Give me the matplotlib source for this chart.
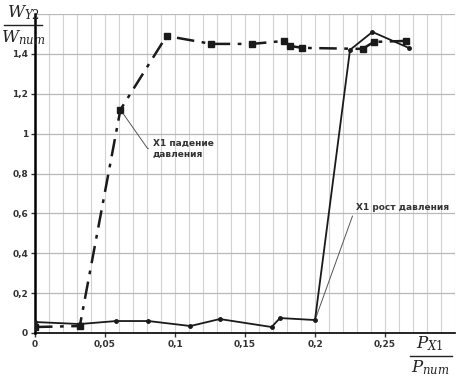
import matplotlib
matplotlib.use("Agg")
import matplotlib.pyplot as plt
import numpy as np

plt.rcParams["mathtext.fontset"] = "dejavuserif"

# Data
rise_x = [0.0, 0.032, 0.058, 0.081, 0.111, 0.132, 0.169, 0.175, 0.200, 0.225, 0.241, 0.267]
rise_y = [0.055, 0.045, 0.06, 0.06, 0.035, 0.07, 0.03, 0.075, 0.065, 1.42, 1.51, 1.43]

fall_x = [0.0, 0.032, 0.061, 0.094, 0.126, 0.155, 0.178, 0.182, 0.191, 0.234, 0.242, 0.265]
fall_y = [0.03, 0.035, 1.12, 1.49, 1.45, 1.45, 1.465, 1.44, 1.43, 1.425, 1.46, 1.465]

xticks = [0, 0.05, 0.1, 0.15, 0.2, 0.25]
xtick_labels = ["0", "0,05", "0,1", "0,15", "0,2", "0,25"]
yticks = [0, 0.2, 0.4, 0.6, 0.8, 1.0, 1.2, 1.4]
ytick_labels = ["0", "0,2", "0,4", "0,6", "0,8", "1", "1,2", "1,4"]

W, H = 463, 379
fig = plt.figure(figsize=(W / 100, H / 100), dpi=100)
ax = fig.add_axes([35 / W, 1 - 333 / H, 420 / W, (333 - 14) / H])
ax.set_xlim(0, 0.3)
ax.set_ylim(0, 1.6)

# grid
for xv in np.arange(0.01, 0.301, 0.01):
    ax.axvline(xv, color="#d2d2d2", lw=0.8, zorder=0)
for yv in np.arange(0.2, 1.61, 0.2):
    ax.axhline(yv, color="#b8b8b8", lw=0.9, zorder=0)

ax.plot(fall_x, fall_y, color="#1a1a1a", lw=1.8, ls=(0, (7, 3, 1.5, 3)),
        marker="s", ms=4.5, zorder=3)
ax.plot(rise_x, rise_y, color="#1a1a1a", lw=1.3, marker="o", ms=2.5, zorder=4)

for s in ["top", "right"]:
    ax.spines[s].set_visible(False)
ax.spines["left"].set_linewidth(1.8)
ax.spines["bottom"].set_linewidth(1.2)

ax.set_xticks(xticks)
ax.set_xticklabels(xtick_labels)
ax.set_yticks(yticks)
ax.set_yticklabels(ytick_labels)
ax.tick_params(axis="both", labelsize=6.5, length=3, width=1, colors="#333333",
               direction="out", pad=2)
for lab in ax.get_xticklabels() + ax.get_yticklabels():
    lab.set_fontweight("bold")

# annotations
ax.annotate("X1 падение\nдавления", xy=(0.063, 1.10), xytext=(0.084, 0.925),
            fontsize=6.5, fontweight="bold", color="#333333", ha="left", va="center",
            linespacing=1.3,
            arrowprops=dict(arrowstyle="-", color="#555555", lw=0.7,
                            connectionstyle="angle,angleA=0,angleB=-55,rad=0",
                            relpos=(0, 0.5), shrinkA=1, shrinkB=0))
ax.annotate("X1 рост давления", xy=(0.2, 0.065), xytext=(0.229, 0.63),
            fontsize=6.5, fontweight="bold", color="#333333", ha="left", va="center",
            arrowprops=dict(arrowstyle="-", color="#555555", lw=0.7,
                            relpos=(0, 0.5), shrinkA=1, shrinkB=0))

# axis labels as fractions
fs = dict(fontsize=12, color="#222222")
fig.text(23 / W, 1 - 13 / H, r"$W_{Y2}$", ha="center", va="center", **fs)
fig.add_artist(plt.Line2D([4 / W, 42 / W], [1 - 25 / H, 1 - 25 / H],
                          color="#222222", lw=1))
fig.text(23 / W, 1 - 38 / H, r"$W_{пит}$", ha="center", va="center", **fs)

fig.text(430 / W, 1 - 344 / H, r"$P_{X1}$", ha="center", va="center", **fs)
fig.add_artist(plt.Line2D([410 / W, 452 / W], [1 - 356 / H, 1 - 356 / H],
                          color="#222222", lw=1))
fig.text(430 / W, 1 - 368 / H, r"$P_{пит}$", ha="center", va="center", **fs)

fig.savefig("out.png", dpi=100)
